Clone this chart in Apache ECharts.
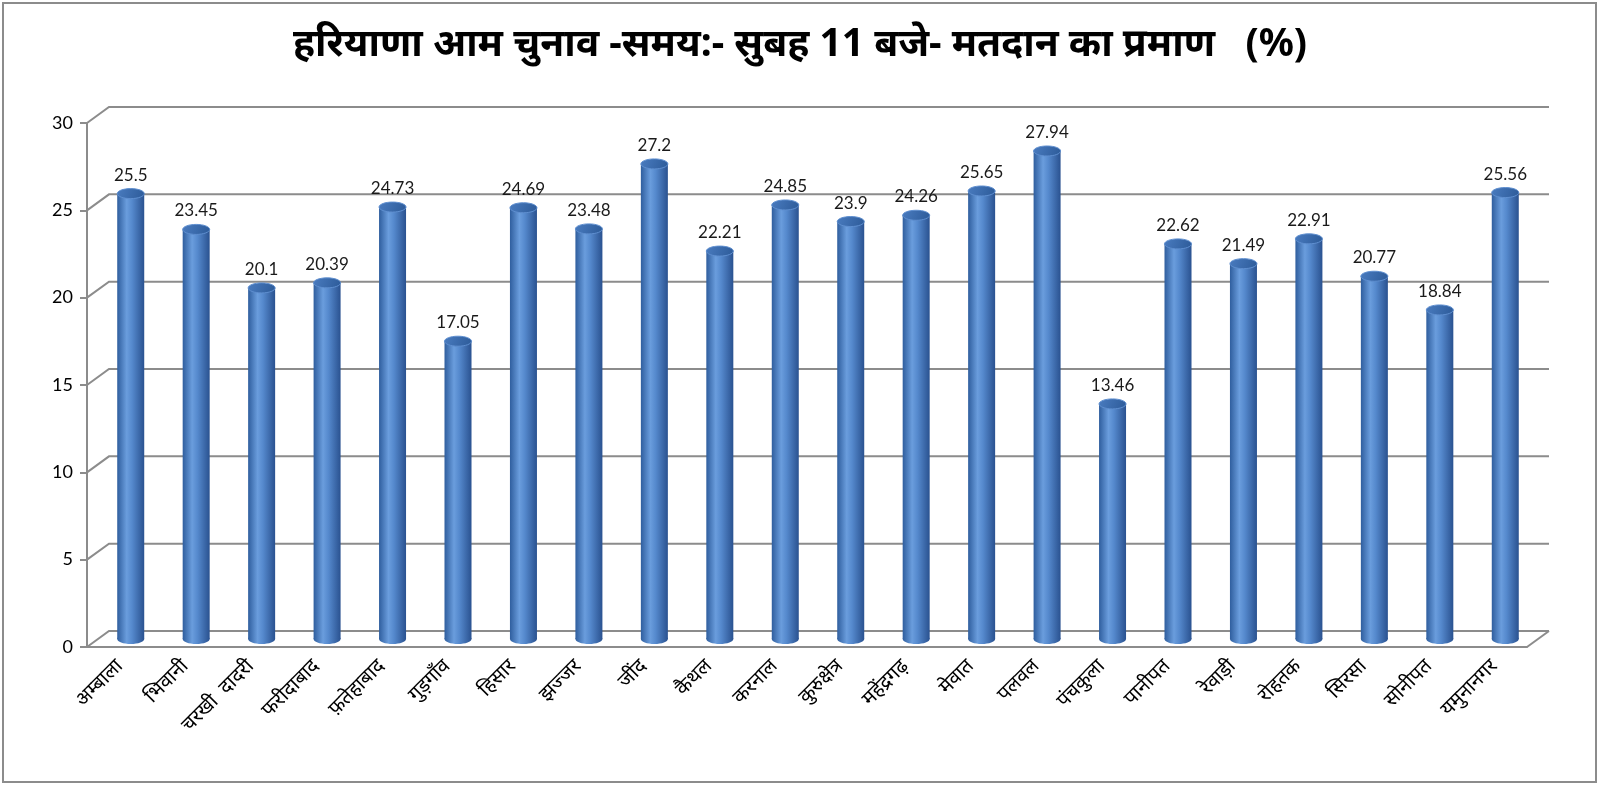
<!DOCTYPE html>
<html>
<head>
<meta charset="utf-8">
<script src="https://cdn.jsdelivr.net/npm/echarts@6/dist/echarts.min.js"></script>
<style>
  html, body { margin: 0; padding: 0; background: #fff; }
  #chart { width: 1600px; height: 785px; }
</style>
</head>
<body>
<div id="chart"></div>
<script>
// districts and turnout (%) at 11 am
var districts = ['अम्बाला', 'भिवानी', 'चरखी  दादरी', 'फरीदाबाद', 'फ़तेहाबाद', 'गुड़गाँव', 'हिसार', 'झज्जर', 'जींद', 'कैथल', 'करनाल',
  'कुरुक्षेत्र', 'महेंद्रगढ़', 'मेवात', 'पलवल', 'पंचकुला', 'पानीपत', 'रेवाड़ी', 'रोहतक', 'सिरसा', 'सोनीपत', 'यमुनानगर'];
var turnout = [25.5, 23.45, 20.1, 20.39, 24.73, 17.05, 24.69, 23.48, 27.2, 22.21, 24.85,
  23.9, 24.26, 25.65, 27.94, 13.46, 22.62, 21.49, 22.91, 20.77, 18.84, 25.56];
var yTicks = [0, 5, 10, 15, 20, 25, 30];

var titleText = 'हरियाणा आम चुनाव -समय:- सुबह 11 बजे- मतदान का प्रमाण   (%)';

// fake 3d depth of the plot box
var DEPTH_X = 22;
var DEPTH_Y = 16;
var GRID_COLOR = '#8c8c8c';

var chart = echarts.init(document.getElementById('chart'));

function renderWall(params, api) {
  var cs = params.coordSys;
  var y = api.coord([0, api.value(1)])[1];
  var left = cs.x, right = cs.x + cs.width;
  var children = [{
    type: 'polyline',
    shape: { points: [[left, y], [left + DEPTH_X, y - DEPTH_Y], [right + DEPTH_X, y - DEPTH_Y]] },
    style: { stroke: GRID_COLOR, lineWidth: 2, fill: null }
  }];
  if (api.value(1) === 0) {
    children.push({
      type: 'line',
      shape: { x1: right, y1: y, x2: right + DEPTH_X, y2: y - DEPTH_Y },
      style: { stroke: GRID_COLOR, lineWidth: 2 }
    });
  }
  return { type: 'group', children: children };
}

function renderCylinder(params, api) {
  var val = api.value(1);
  var top = api.coord([api.value(0), val]);
  var base = api.coord([api.value(0), 0]);
  var cx = top[0] + DEPTH_X / 2;
  var ty = top[1] - DEPTH_Y / 2;
  var by = base[1] - DEPTH_Y / 2;
  var w = 27, rx = w / 2, ry = 5;
  var body = new echarts.graphic.LinearGradient(0, 0, 1, 0, [
    { offset: 0, color: '#2f5e9e' },
    { offset: 0.35, color: '#6a9ddd' },
    { offset: 0.55, color: '#5589cd' },
    { offset: 1, color: '#2a5290' }
  ]);
  return {
    type: 'group',
    children: [
      { type: 'ellipse', shape: { cx: cx, cy: by, rx: rx, ry: ry }, style: { fill: body } },
      { type: 'rect', shape: { x: cx - rx, y: ty, width: w, height: by - ty }, style: { fill: body } },
      {
        type: 'ellipse', shape: { cx: cx, cy: ty, rx: rx, ry: ry },
        style: {
          fill: new echarts.graphic.LinearGradient(0, 0, 1, 1, [
            { offset: 0, color: '#4a7cc0' },
            { offset: 1, color: '#2c5a98' }
          ]),
          stroke: '#5f8fd0', lineWidth: 1
        }
      },
      {
        type: 'text',
        style: {
          text: String(val), x: cx, y: ty - ry - 5,
          align: 'center', verticalAlign: 'bottom',
          font: '17px Lato, "Noto Sans", sans-serif', fill: '#1a1a1a'
        }
      }
    ]
  };
}

var option = {
  backgroundColor: '#fff',
  animation: false,
  title: {
    text: titleText,
    left: 'center',
    top: 20,
    textStyle: { fontSize: 39, fontWeight: 'bold', color: '#000', fontFamily: '"Noto Sans", sans-serif' }
  },
  graphic: [{
    type: 'rect',
    shape: { x: 3, y: 3, width: 1593, height: 779 },
    style: { fill: null, stroke: '#8c8c8c', lineWidth: 2 },
    silent: true
  }],
  grid: { left: 87, right: 73, top: 123, bottom: 138 },
  xAxis: {
    type: 'category',
    data: districts,
    axisLine: { lineStyle: { color: GRID_COLOR, width: 2 } },
    axisTick: { interval: 0, length: 6, lineStyle: { color: GRID_COLOR, width: 2 } },
    axisLabel: {
      interval: 0, rotate: 45, margin: 16,
      fontSize: 20, color: '#000', fontFamily: '"Noto Sans", sans-serif'
    },
    splitLine: { show: false }
  },
  yAxis: {
    type: 'value',
    min: 0, max: 30, interval: 5,
    axisLine: { show: true, lineStyle: { color: GRID_COLOR, width: 2 } },
    axisTick: { show: true, length: 7, lineStyle: { color: GRID_COLOR, width: 2 } },
    axisLabel: { fontSize: 18, color: '#000', margin: 14, fontFamily: 'Lato, sans-serif' },
    splitLine: { show: false }
  },
  series: [
    {
      type: 'custom',
      renderItem: renderWall,
      data: yTicks.map(function (v) { return [0, v]; }),
      encode: { x: 0, y: 1 },
      z: 1,
      silent: true
    },
    {
      type: 'custom',
      renderItem: renderCylinder,
      data: turnout.map(function (v, i) { return [i, v]; }),
      encode: { x: 0, y: 1 },
      z: 3
    }
  ]
};

chart.setOption(option);
</script>
</body>
</html>
